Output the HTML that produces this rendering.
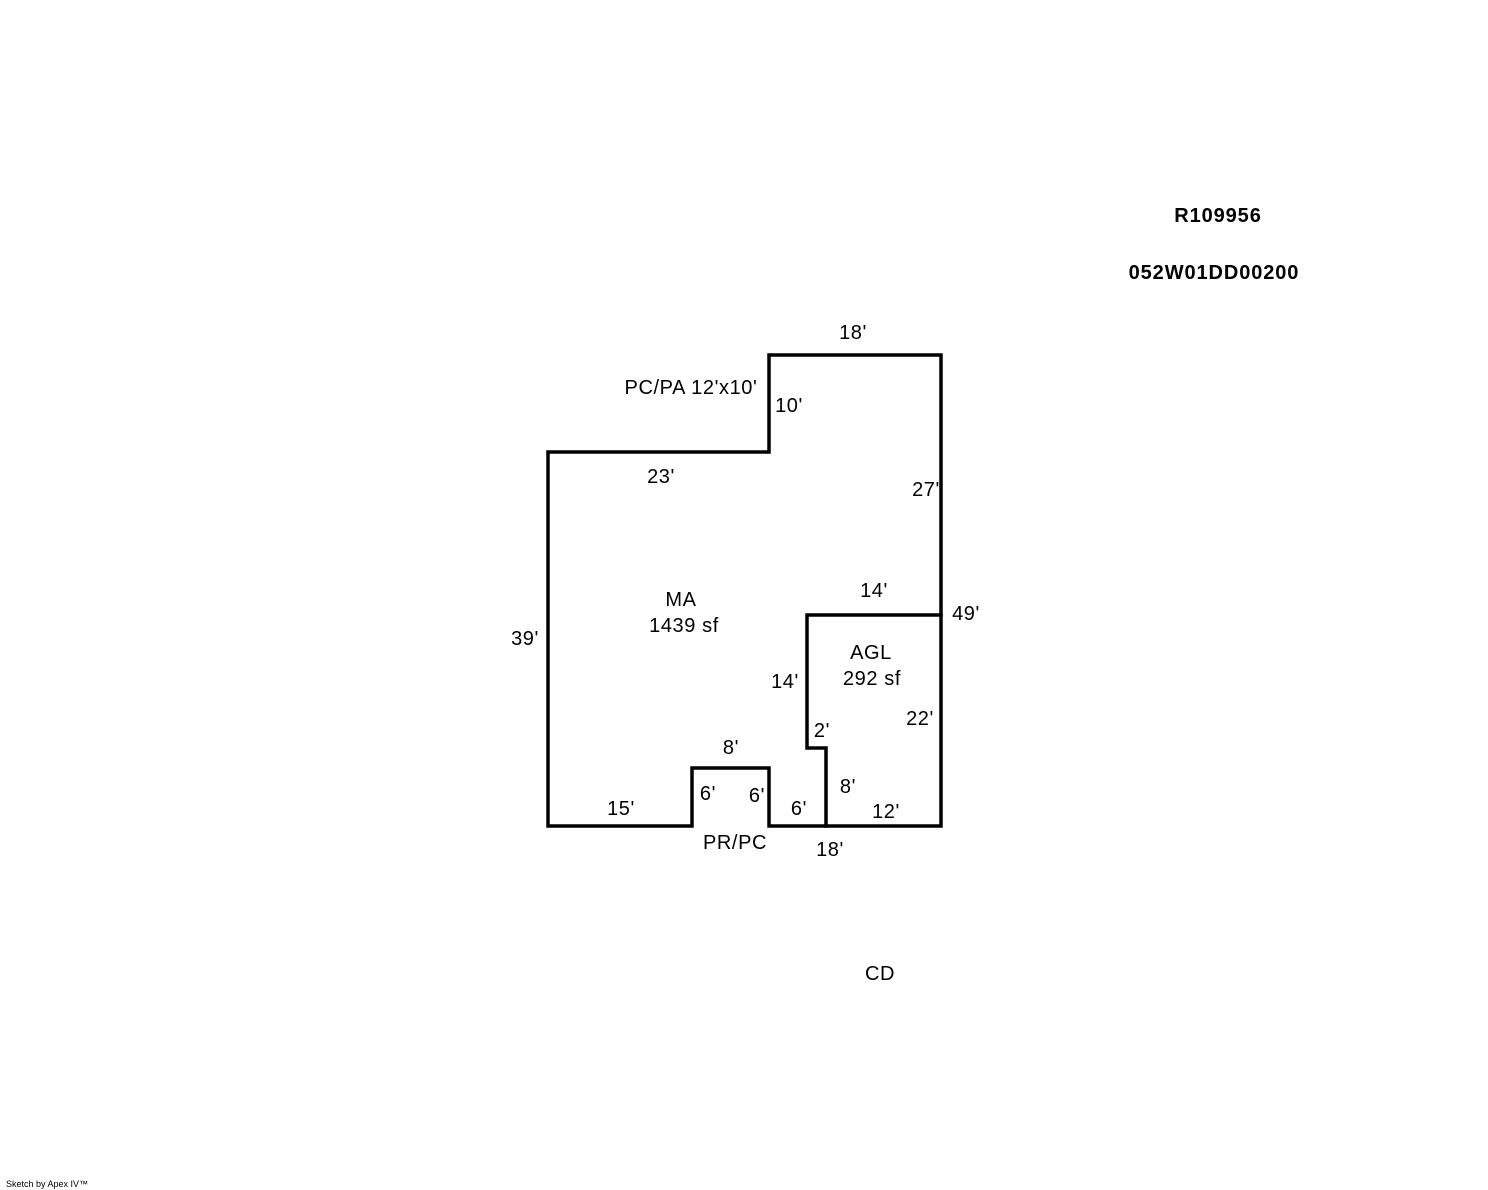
<!DOCTYPE html>
<html><head><style>
html,body{margin:0;padding:0;background:#fff;}
svg{display:block;}
text{font-family:"Liberation Sans",Arial,sans-serif;font-size:20px;fill:#000;letter-spacing:0.6px;}
.b{font-weight:bold;letter-spacing:0.9px;}
</style></head><body>
<svg width="1488" height="1190" viewBox="0 0 1488 1190" xmlns="http://www.w3.org/2000/svg">
<g fill="none" stroke="#000" stroke-width="3.5" stroke-linejoin="miter" stroke-linecap="square">
<path d="M548,452 L769,452 L769,355 L941,355 L941,826 L769,826 L769,768 L692,768 L692,826 L548,826 Z"/>
<path d="M941,615 L807,615 L807,748 L826,748 L826,826"/>
</g>
<g text-anchor="middle">
<text class="b" x="1218" y="222">R109956</text>
<text class="b" x="1214" y="279">052W01DD00200</text>
<text x="853" y="339">18'</text>
<text x="691" y="394">PC/PA 12'x10'</text>
<text x="789" y="412">10'</text>
<text x="661" y="483">23'</text>
<text x="926" y="496">27'</text>
<text x="681" y="606">MA</text>
<text x="684" y="632">1439 sf</text>
<text x="874" y="597">14'</text>
<text x="966" y="620">49'</text>
<text x="525" y="645">39'</text>
<text x="871" y="659">AGL</text>
<text x="872" y="685">292 sf</text>
<text x="785" y="688">14'</text>
<text x="920" y="725">22'</text>
<text x="822" y="737">2'</text>
<text x="731" y="754">8'</text>
<text x="848" y="793">8'</text>
<text x="708" y="800">6'</text>
<text x="757" y="802">6'</text>
<text x="621" y="815">15'</text>
<text x="799" y="815">6'</text>
<text x="886" y="818">12'</text>
<text x="735" y="849">PR/PC</text>
<text x="830" y="856">18'</text>
<text x="880" y="980">CD</text>
</g>
<text x="6" y="1187" style="font-size:9px;letter-spacing:0">Sketch by Apex IV™</text>
</svg>
</body></html>
